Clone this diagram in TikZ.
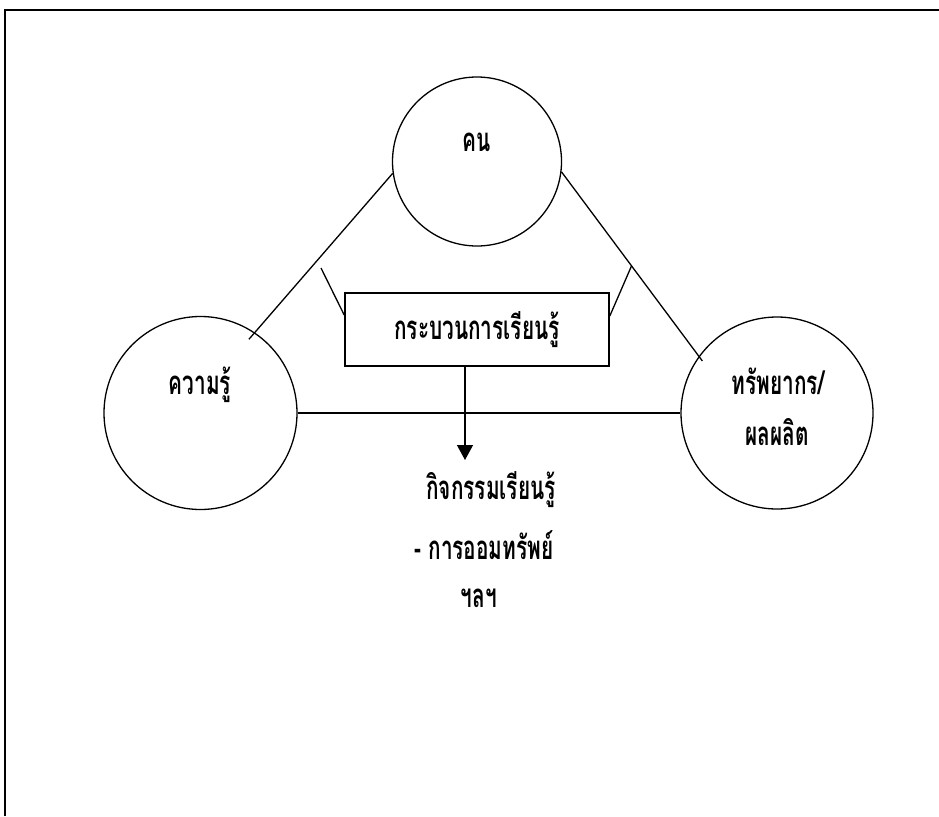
\documentclass[tikz,border=0pt]{standalone}
\usepackage{fontspec}
\newfontfamily\thaifont[Script=Thai,FakeStretch=0.63]{Loma}
\usetikzlibrary{arrows.meta}

\tikzset{
    round/.style={circle,draw,line width=1.3pt,inner sep=0pt},
    link/.style={line width=1.3pt},
    thai/.style={font=\thaifont\bfseries\fontsize{33}{38}\selectfont,inner sep=0pt}
}

\begin{document}
\begin{tikzpicture}[x=1pt,y=-1pt]
    \useasboundingbox (0,0) rectangle (939,816);
    \draw[line width=2pt] (5,816) -- (5,10) -- (939,10);

    \node[round,minimum size=169pt] (people) at (477,161.5) {};
    \node[round,minimum size=193pt] (knowledge) at (200.5,413) {};
    \node[round,minimum size=192pt] (resource) at (777,413) {};
    \node[draw,line width=1.6pt,minimum width=264pt,minimum height=73pt,thai] (process) at (477,329.5) {กระบวนการเรียนรู้};

    \node[thai] (peopletxt) at (477,142) {คน};
    \node[thai] (knowtxt) at (200,385) {ความรู้};
    \node[thai] (restxt) at (778,381) {ทรัพยากร/};
    \node[thai] (prodtxt) at (777,432) {ผลผลิต};

    \draw[link,shorten >=-9pt] (people.188) -- (knowledge.56);
    \draw[link,shorten >=-6pt] (people.353) -- (resource.144);
    \draw[link] (knowledge.east) -- (resource.west);

    \coordinate (lk) at (321,268);
    \path (people.353) -- (resource.144) coordinate[pos=0.51] (rk);
    \draw[link] (lk) -- ([yshift=14.5pt]process.west);
    \draw[link] (rk) -- ([yshift=13.5pt]process.east);

    \coordinate (tip) at (465,460);
    \draw[link,-{Triangle[width=16pt,length=15pt]}] ([xshift=-12pt]process.south) -- (tip);

    \node[thai] (act1) at (491,490) {กิจกรรมเรียนรู้};
    \node[thai] (act2) at (484,545) {- การออมทรัพย์};
    \node[thai] (act3) at (479,598) {ฯลฯ};
\end{tikzpicture}
\end{document}
